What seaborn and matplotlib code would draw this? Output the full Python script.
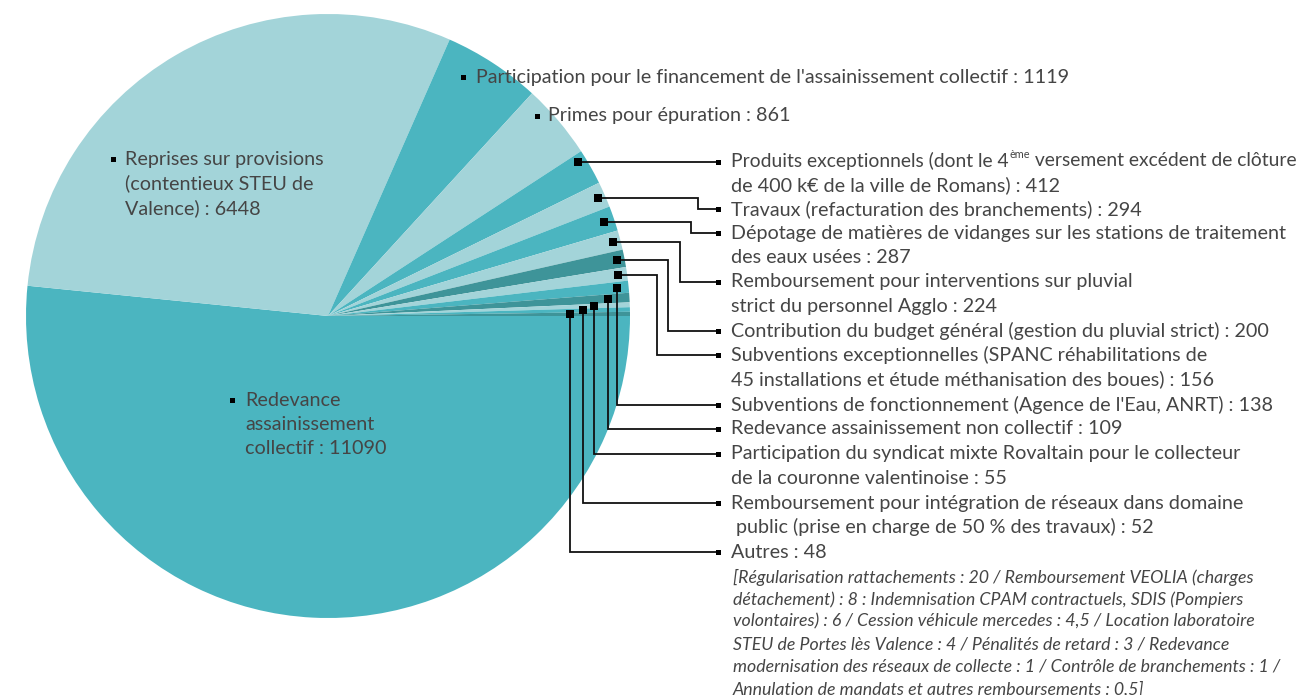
import re
import matplotlib
matplotlib.use("Agg")
import matplotlib.pyplot as plt
import seaborn as sns
import numpy as np

# ---------------- data ----------------
categories = [
    "Redevance assainissement collectif",
    "Reprises sur provisions (contentieux STEU de Valence)",
    "Participation pour le financement de l'assainissement collectif",
    "Primes pour épuration",
    "Produits exceptionnels",
    "Travaux (refacturation des branchements)",
    "Dépotage de matières de vidanges",
    "Remboursement pour interventions sur pluvial",
    "Contribution du budget général",
    "Subventions exceptionnelles",
    "Subventions de fonctionnement",
    "Redevance assainissement non collectif",
    "Participation du syndicat mixte Rovaltain",
    "Remboursement pour intégration de réseaux",
    "Autres",
]
values = [11090, 6448, 1119, 861, 412, 294, 287, 224, 200, 156, 138, 109, 55, 52, 48]
tones = ["teal", "light", "teal", "light", "teal", "light", "teal", "light",
         "dark", "light", "teal", "dark", "light", "teal", "dark"]
label_lines = [
    ["Redevance", "assainissement", "collectif : 11090"],
    ["Reprises sur provisions", "(contentieux STEU de", "Valence) : 6448"],
    ["Participation pour le financement de l'assainissement collectif : 1119"],
    ["Primes pour épuration : 861"],
    ["Produits exceptionnels (dont le 4^{ème} versement excédent de clôture",
     "de 400 k€ de la ville de Romans) : 412"],
    ["Travaux (refacturation des branchements) : 294"],
    ["Dépotage de matières de vidanges sur les stations de traitement",
     "des eaux usées : 287"],
    ["Remboursement pour interventions sur pluvial",
     "strict du personnel Agglo : 224"],
    ["Contribution du budget général (gestion du pluvial strict) : 200"],
    ["Subventions exceptionnelles (SPANC réhabilitations de",
     "45 installations et étude méthanisation des boues) : 156"],
    ["Subventions de fonctionnement (Agence de l'Eau, ANRT) : 138"],
    ["Redevance assainissement non collectif : 109"],
    ["Participation du syndicat mixte Rovaltain pour le collecteur",
     "de la couronne valentinoise : 55"],
    ["Remboursement pour intégration de réseaux dans domaine",
     " public (prise en charge de 50 % des travaux) : 52"],
    ["Autres : 48"],
]
autres_detail = [
    "[Régularisation rattachements : 20 / Remboursement VEOLIA (charges",
    "détachement) : 8 : Indemnisation CPAM contractuels, SDIS (Pompiers",
    "volontaires) : 6 / Cession véhicule mercedes : 4,5 / Location laboratoire",
    "STEU de Portes lès Valence : 4 / Pénalités de retard : 3 / Redevance",
    "modernisation des réseaux de collecte : 1 / Contrôle de branchements : 1 /",
    "Annulation de mandats et autres remboursements : 0,5]",
]

# ---------------- style ----------------
sns.set_theme(style="white")
plt.rcParams['font.family'] = ['Lato', 'DejaVu Sans']
palette = {"teal": "#4bb5c0", "light": "#a3d4d9", "dark": "#3e9499"}
TXT = "#454545"
FS = 14.2
LH = 24.4

W, H = 1306, 695
fig = plt.figure(figsize=(W / 100, H / 100), dpi=100)
ax = fig.add_axes([0, 0, 1, 1])
cx, cy, R = 328, 316, 302
wedges, _ = ax.pie(values, colors=[palette[t] for t in tones], startangle=0,
                   counterclock=True, center=(cx, cy), radius=R,
                   wedgeprops=dict(linewidth=0), frame=True)
ax.set_xlim(0, W)
ax.set_ylim(H, 0)
ax.set_aspect('equal')
ax.axis('off')

renderer = fig.canvas.get_renderer()


def draw_line_text(x, y, s, size=FS, style='normal'):
    m = re.match(r"(.*)\^\{(.*?)\}(.*)", s)
    kw = dict(color=TXT, fontweight='normal', fontstyle=style, va='center', ha='left')
    if not m:
        ax.text(x, y, s, fontsize=size, **kw)
        return
    pre, sup, post = m.groups()
    s2 = size * 0.975
    t1 = ax.text(x, y, pre, fontsize=s2, **kw)
    w1 = t1.get_window_extent(renderer).width
    t2 = ax.text(x + w1 + 0.5, y - 6, sup, fontsize=size * 0.55, **kw)
    w2 = t2.get_window_extent(renderer).width
    ax.text(x + w1 + w2 + 1, y, post, fontsize=s2, **kw)


def draw_label(x_sq, x_txt, y0, lines, lh=LH):
    ax.plot([x_sq], [y0], marker='s', ms=3.6, color='black', mec='black', mew=0)
    for i, ln in enumerate(lines):
        draw_line_text(x_txt, y0 + i * lh, ln)


# inside / top labels (layout positions)
inner_layout = {0: (232, 245, 400), 1: (113, 125, 159), 2: (463, 476, 77), 3: (537, 548, 116)}
for i, (xs, xt, y0) in inner_layout.items():
    draw_label(xs, xt, y0, label_lines[i])

# connected labels for the small slices
label_y = {4: 161, 5: 209, 6: 233, 7: 282, 8: 331, 9: 355, 10: 405,
           11: 429, 12: 454, 13: 503, 14: 552}
elbow_x = {5: 698, 6: 691, 7: 680, 8: 668, 9: 657}
rfrac = {4: 0.972, 5: 0.975, 6: 0.965, 7: 0.975, 8: 0.975, 9: 0.97, 10: 0.96,
         11: 0.93, 12: 0.88, 13: 0.845, 14: 0.80}
ang_shift = {4: -2.0}
X_SQ, X_TXT = 718, 731
for i in range(4, len(values)):
    w = wedges[i]
    ang = np.deg2rad((w.theta1 + w.theta2) / 2 + ang_shift.get(i, 0.0))
    mx = cx + R * rfrac[i] * np.cos(ang)
    my = cy + R * rfrac[i] * np.sin(ang)
    ly = label_y[i]
    if i in elbow_x:
        ex = elbow_x[i]
        xs_, ys_ = [mx, ex, ex, X_SQ], [my, my, ly, ly]
    elif i == 4:
        xs_, ys_ = [mx, X_SQ], [my, my]
        ly = my
    else:
        xs_, ys_ = [mx, mx, X_SQ], [my, ly, ly]
    ax.plot(xs_, ys_, color='#111111', lw=1.3, solid_joinstyle='miter')
    ax.plot([mx], [my], marker='s', ms=5.2, color='black', mew=0)
    ax.plot([X_SQ], [ly], marker='s', ms=3.6, color='black', mew=0)
    for k, ln in enumerate(label_lines[i]):
        draw_line_text(X_TXT, label_y[i] + k * LH, ln)

for j, ln in enumerate(autres_detail):
    draw_line_text(733, 577 + j * 22.4, ln, size=12.8, style='italic')

fig.savefig("out.png", dpi=100)
